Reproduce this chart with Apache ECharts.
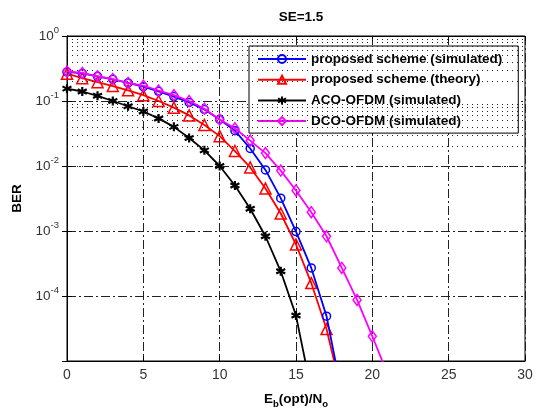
<!DOCTYPE html>
<html>
<head>
<meta charset="utf-8">
<script src="https://cdn.jsdelivr.net/npm/echarts@6/dist/echarts.min.js"></script>
<style>
  html, body { margin: 0; padding: 0; background: #fff; }
  #chart { width: 536px; height: 414px; }
</style>
</head>
<body>
<div id="chart"></div>
<script>
// Eb(opt)/No points and BER values
var xPropSim = [0,1,2,3,4,5,6,7,8,9,10,11,12,13,14,15,16,17,18];
var berPropSim = [0.28,0.266,0.24,0.216,0.19,0.166,0.141,0.117,0.095,0.074,0.052,0.035,0.0186,0.0087,0.0032,0.00098,0.00027,0.000049,0.0000032];

var xPropTh = [0,1,2,3,4,5,6,7,8,9,10,11,12,13,14,15,16,17,18];
var berPropTh = [0.263,0.224,0.195,0.17,0.146,0.123,0.1,0.079,0.06,0.0427,0.0288,0.017,0.0095,0.0045,0.00186,0.00062,0.000158,0.000031,0.0000032];

var xAco = [0,1,2,3,4,5,6,7,8,9,10,11,12,13,14,15,16];
var berAco = [0.155,0.14,0.12,0.1,0.083,0.069,0.054,0.04,0.027,0.0174,0.01,0.005,0.0022,0.00083,0.00024,0.00005,0.0000035];

var xDco = [0,1,2,3,4,5,6,7,8,9,10,11,12,13,14,15,16,17,18,19,20,21];
var berDco = [0.285,0.27,0.24,0.218,0.19,0.172,0.145,0.123,0.1,0.076,0.052,0.038,0.0246,0.0158,0.0085,0.0042,0.00195,0.00083,0.00027,0.000087,0.000024,0.0000063];

var xTicks = [0, 5, 10, 15, 20, 25, 30];
var seriesNames = ['proposed scheme (simulated)', 'proposed scheme (theory)', 'ACO-OFDM (simulated)', 'DCO-OFDM (simulated)'];

function pairs(xs, ys) {
  return xs.map(function (x, i) { return [x, ys[i]]; });
}

// minor log grid lines (2..9 x 10^k)
var minorLines = [];
for (var k = -5; k < 0; k++) {
  for (var m = 2; m <= 9; m++) {
    minorLines.push({ yAxis: m * Math.pow(10, k) });
  }
}

var font = "'Liberation Sans', Arial, Helvetica, sans-serif";
var star = 'path://M5,0L5,10M0.7,2.5L9.3,7.5M0.7,7.5L9.3,2.5';

var chart = echarts.init(document.getElementById('chart'));
var option = {
  animation: false,
  backgroundColor: '#fff',
  title: {
    text: 'SE=1.5',
    left: 296,
    textAlign: 'center',
    top: 5,
    textStyle: { fontFamily: font, fontSize: 13.5, fontWeight: 'bold', color: '#000' }
  },
  grid: {
    left: 67, right: 11, top: 36, bottom: 50,
    show: true, borderColor: '#000', borderWidth: 1, backgroundColor: '#fff'
  },
  legend: {
    orient: 'vertical',
    left: 249, top: 46,
    backgroundColor: '#fff',
    borderColor: '#000',
    borderWidth: 1,
    borderRadius: 0,
    padding: [5, 16, 4, 8],
    itemGap: 4.7,
    itemWidth: 48,
    itemHeight: 10,
    data: seriesNames,
    textStyle: { fontFamily: font, fontSize: 13.5, lineHeight: 16, fontWeight: 'bold', color: '#000' }
  },
  xAxis: [{
    type: 'value',
    min: 0, max: 30, interval: 5,
    name: 'E{sub|b}(opt)/N{sub|o}',
    nameLocation: 'middle',
    nameGap: 29,
    nameTextStyle: {
      fontFamily: font, fontSize: 13.5, fontWeight: 'bold', color: '#000',
      rich: { sub: { fontFamily: font, fontSize: 9.5, fontWeight: 'bold', color: '#000', padding: [9, 0, 0, 0] } }
    },
    axisLine: { show: true, lineStyle: { color: '#000', width: 1 } },
    axisTick: { show: true, inside: true, length: 5, lineStyle: { color: '#000' } },
    axisLabel: { fontFamily: font, fontSize: 14, color: '#333', margin: 7,
      formatter: function (v) { return xTicks.indexOf(v) >= 0 ? String(v) : ''; } },
    splitLine: { show: true, lineStyle: { color: '#222', width: 1, type: [9, 3, 2, 3] } }
  }, {
    type: 'value', position: 'top',
    min: 0, max: 30, interval: 5,
    axisLine: { show: true, lineStyle: { color: '#000' } },
    axisTick: { show: true, inside: true, length: 5, lineStyle: { color: '#000' } },
    axisLabel: { show: false },
    splitLine: { show: false }
  }],
  yAxis: [{
    type: 'log',
    logBase: 10,
    min: 1e-5, max: 1,
    name: 'BER',
    nameLocation: 'middle',
    nameRotate: 90,
    nameGap: 41,
    nameTextStyle: { fontFamily: font, fontSize: 13.5, fontWeight: 'bold', color: '#000' },
    axisLine: { show: true, lineStyle: { color: '#000', width: 1 } },
    axisTick: { show: true, inside: true, length: 5, lineStyle: { color: '#000' } },
    axisLabel: {
      fontFamily: font, fontSize: 13, color: '#333', margin: 8,
      formatter: function (v) {
        var e = Math.round(Math.log10(v));
        if (e === -5) return '';
        return '{b|10}{s|' + e + '}';
      },
      rich: {
        b: { fontFamily: font, fontSize: 13.5, color: '#333', verticalAlign: 'bottom', lineHeight: 15 },
        s: { fontFamily: font, fontSize: 9.5, color: '#333', verticalAlign: 'bottom', lineHeight: 15, padding: [0, 0, 8, 0] }
      }
    },
    splitLine: { show: true, lineStyle: { color: '#222', width: 1, type: [9, 3, 2, 3] } }
  }, {
    type: 'log', logBase: 10, position: 'right',
    min: 1e-5, max: 1,
    axisLine: { show: true, lineStyle: { color: '#000' } },
    axisTick: { show: true, inside: true, length: 5, lineStyle: { color: '#000' } },
    axisLabel: { show: false },
    splitLine: { show: false }
  }],
  series: [
    {
      name: 'minor-grid', type: 'line', data: [], z: 1, silent: true,
      markLine: {
        silent: true, symbol: 'none', label: { show: false },
        lineStyle: { color: '#222', width: 1, type: [1, 4] },
        data: minorLines, animation: false
      }
    },
    {
      name: seriesNames[0], type: 'line', data: pairs(xPropSim, berPropSim),
      symbol: 'circle', symbolSize: 8, z: 5,
      lineStyle: { color: '#0000ff', width: 1.8 },
      itemStyle: { color: 'none', borderColor: '#0000ff', borderWidth: 1.5 }
    },
    {
      name: seriesNames[1], type: 'line', data: pairs(xPropTh, berPropTh),
      symbol: 'triangle', symbolSize: 11, z: 4,
      lineStyle: { color: '#ff0000', width: 1.8 },
      itemStyle: { color: 'none', borderColor: '#ff0000', borderWidth: 1.5 }
    },
    {
      name: seriesNames[2], type: 'line', data: pairs(xAco, berAco),
      symbol: star, symbolSize: 9, z: 4,
      lineStyle: { color: '#000', width: 1.8 },
      itemStyle: { color: '#000', borderColor: '#000', borderWidth: 2.2 }
    },
    {
      name: seriesNames[3], type: 'line', data: pairs(xDco, berDco),
      symbol: 'diamond', symbolSize: [8, 11], z: 6,
      lineStyle: { color: '#ff00ff', width: 1.8 },
      itemStyle: { color: 'none', borderColor: '#ff00ff', borderWidth: 1.5 }
    }
  ]
};
chart.setOption(option);
</script>
</body>
</html>
